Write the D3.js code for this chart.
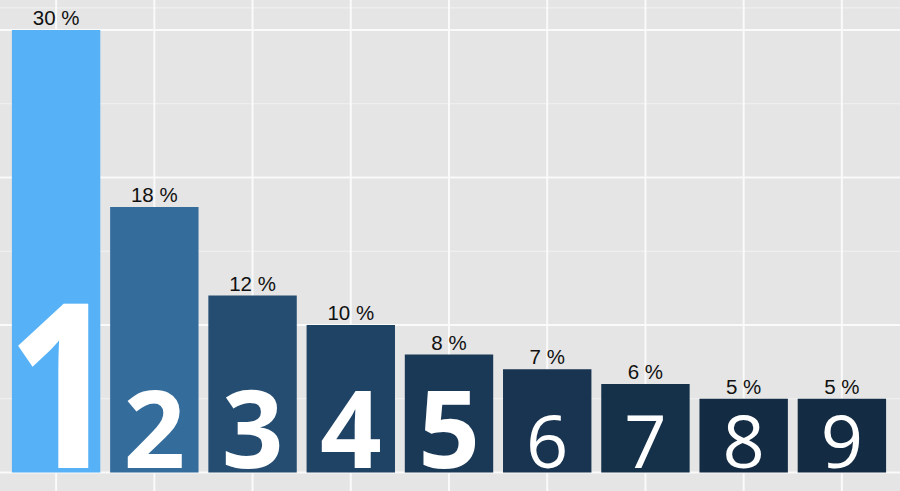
<!DOCTYPE html>
<html>
<head>
<meta charset="utf-8">
<script src="https://cdn.jsdelivr.net/npm/d3@7"></script>
<style>
  html, body { margin: 0; padding: 0; background: #e5e5e5; }
  svg { display: block; }
</style>
</head>
<body>
<svg id="chart" width="900" height="491"></svg>
<script>
// ---- data ----
const digits = ["1", "2", "3", "4", "5", "6", "7", "8", "9"];
const shares = [30, 18, 12, 10, 8, 7, 6, 5, 5];
const labels = ["30 %", "18 %", "12 %", "10 %", "8 %", "7 %", "6 %", "5 %", "5 %"];
const majorTicks = [0, 10, 20, 30];
const minorTicks = [5, 15, 25, 31.5];

// ---- layout ----
const W = 900, H = 491;
const svg = d3.select("#chart");

const x = d3.scaleBand().domain(digits).range([7, 891]).paddingInner(0.1).paddingOuter(0.05);
const y = d3.scaleLinear().domain([0, 30]).range([472.5, 30]);
const color = d3.scaleLinear().domain([d3.min(shares), d3.max(shares)])
  .range(["#132B43", "#56B1F7"]).interpolate(d3.interpolateLab);

svg.append("rect").attr("width", W).attr("height", H).attr("fill", "#e5e5e5");

// grid
const grid = svg.append("g");
grid.selectAll("line.minor").data(minorTicks).join("line")
  .attr("x1", 0).attr("x2", W)
  .attr("y1", d => y(d)).attr("y2", d => y(d))
  .attr("stroke", "#f2f2f2").attr("stroke-width", 1);
grid.selectAll("line.major").data(majorTicks).join("line")
  .attr("x1", 0).attr("x2", W)
  .attr("y1", d => y(d)).attr("y2", d => y(d))
  .attr("stroke", "#fafafa").attr("stroke-width", 2);
grid.selectAll("line.vert").data(digits).join("line")
  .attr("x1", d => x(d) + x.bandwidth() / 2).attr("x2", d => x(d) + x.bandwidth() / 2)
  .attr("y1", 0).attr("y2", H)
  .attr("stroke", "#fafafa").attr("stroke-width", 2);

// bars
svg.append("g").selectAll("rect").data(digits).join("rect")
  .attr("x", d => x(d))
  .attr("width", x.bandwidth())
  .attr("y", (d, i) => y(shares[i]))
  .attr("height", (d, i) => y(0) - y(shares[i]))
  .attr("fill", (d, i) => color(shares[i]));

// value labels
svg.append("g").selectAll("text").data(digits).join("text")
  .attr("x", d => x(d) + x.bandwidth() / 2)
  .attr("y", (d, i) => y(shares[i]) - 5)
  .attr("text-anchor", "middle")
  .attr("font-family", "'Liberation Sans', Arial, sans-serif")
  .attr("font-size", 20.5)
  .attr("fill", "#111")
  .text((d, i) => labels[i]);

// big digit labels inside bars
const digitStyle = i => i === 0 ? { size: 230, weight: 700, sx: 0.86, dx: 7 }
                       : i < 5 ? { size: 108, weight: 700, sx: 1, dx: 0 }
                       : { size: 74, weight: 500, sx: 1, dx: 0 };
svg.append("g").selectAll("text").data(digits).join("text")
  .attr("transform", (d, i) => {
    const s = digitStyle(i);
    return `translate(${x(d) + x.bandwidth() / 2 + s.dx},${y(0) - 5}) scale(${s.sx},1)`;
  })
  .attr("text-anchor", "middle")
  .attr("font-family", "'Open Sans', sans-serif")
  .attr("font-size", (d, i) => digitStyle(i).size)
  .attr("font-weight", (d, i) => digitStyle(i).weight)
  .attr("fill", "#ffffff")
  .text(d => d);
</script>
</body>
</html>
